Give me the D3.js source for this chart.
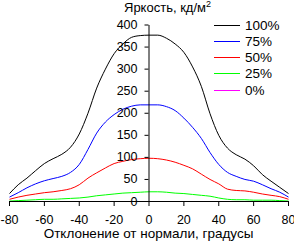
<!DOCTYPE html>
<html><head><meta charset="utf-8">
<script src="https://cdn.jsdelivr.net/npm/d3@7"></script>
<style>
body{margin:0;background:#fff;}
svg{display:block;font-family:"Liberation Sans",Arial,sans-serif;font-size:12px;}
</style></head>
<body>
<svg id="c" width="294" height="242"></svg>
<script>
const angles = [-80,-75,-70,-65,-60,-55,-50,-45,-40,-35,-30,-25,-20,-15,-10,-5,0,5,10,15,20,25,30,35,40,45,50,55,60,65,70,75,80];
const s100 = [18,38,53,70,86,97,107,123,153,200,257,300,335,357,372,376,377,377,370,357,338,305,261,199,150,121,106,96,81,61,46,32,18];
const s75  = [10,20,31,40,47,52,57,66,84,118,155,180,197,209,216,219,219,219,215,206,189,168,143,111,84,66,57,50,46,38,29,21,10];
const s50  = [5,10,14,17,20,22,25,29,38,53,65,76,86,91,95,97,98,97,94,89,82,74,62,50,40,28,25,24,21,17,14,11,5];
const s25  = [1,2,3,4,5,5,6,7,8,10,13,15,17,19,20,21,22,22,21,19,18,16,14,12,8,5,4,4,3,3,3,2,1];
const s0   = angles.map(() => 0);
const seriesNames = ["100%","75%","50%","25%","0%"];
const seriesColors = ["#000000","#0000ff","#ff0000","#00ff00","#ff00ff"];
const xTicks = [-80,-60,-40,-20,0,20,40,60,80];
const yTicks = [0,50,100,150,200,250,300,350,400];
const title = "Яркость, кд/м";
const xTitle = "Отклонение от нормали, градусы";

const svg = d3.select("#c");
const x = d3.scaleLinear().domain([-80,80]).range([9,288]);
const y = d3.scaleLinear().domain([0,400]).range([201,24.5]);

const allSeries = [s100,s75,s50,s25,s0];
const line = d3.line().x((d,i)=>x(angles[i])).y(d=>y(d)).curve(d3.curveMonotoneX);

const gl = svg.append("g").attr("transform","translate(0.5,0.5)");
const order = [4,3,2,1,0];
order.forEach(k=>{
  gl.append("path").datum(allSeries[k]).attr("d",line)
    .attr("fill","none").attr("stroke",seriesColors[k]).attr("stroke-width",1);
});

const xAxis = d3.axisBottom(x).tickValues(xTicks).tickSize(5).tickSizeOuter(0).tickPadding(9).tickFormat(d3.format("d"));
const gx = svg.append("g").attr("transform",`translate(0,${y(0)})`).call(xAxis);
const yAxis = d3.axisLeft(y).tickValues(yTicks).tickSize(4).tickSizeOuter(0).tickPadding(7).tickFormat(d3.format("d"));
const gy = svg.append("g").attr("transform",`translate(${x(0)},0)`).call(yAxis);
[gx,gy].forEach(g=>{
  g.attr("font-family",null).attr("font-size",null);
  g.selectAll("path,line").attr("stroke","#000");
  g.selectAll("text").attr("fill","#000").attr("font-size","12.5px");
});
gx.selectAll("text").text(d=>d<0?"-"+Math.abs(d):d);

// title
const t = svg.append("text").attr("x",124).attr("y",12).attr("fill","#000").attr("font-size","13px").text(title);
t.append("tspan").attr("dy",-5).attr("font-size","9px").text("2");

svg.append("text").attr("x",148.5).attr("y",238).attr("text-anchor","middle").attr("fill","#000").attr("font-size","13.5px").text(xTitle);

// legend
const lg = svg.append("g");
seriesNames.forEach((n,i)=>{
  const yy = Math.round(24.5 + i*16.3) + 0.5;
  lg.append("line").attr("x1",214).attr("x2",240).attr("y1",yy).attr("y2",yy)
    .attr("stroke",seriesColors[i]).attr("stroke-width",1);
  lg.append("text").attr("x",245).attr("y",yy).attr("dy","0.36em").attr("fill","#000").attr("font-size","13.5px").text(n);
});
</script>
</body></html>
